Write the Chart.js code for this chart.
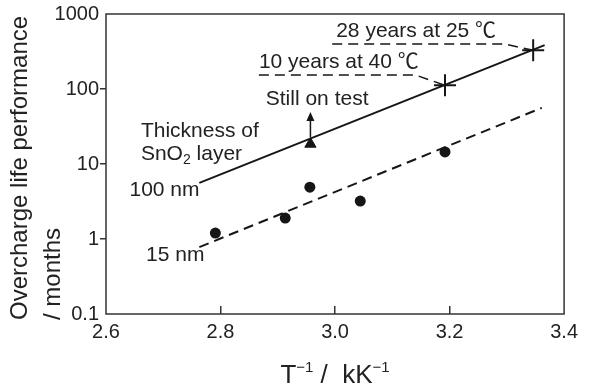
<!DOCTYPE html>
<html>
<head>
<meta charset="utf-8">
<script src="https://cdn.jsdelivr.net/npm/chart.js@4.4.0/dist/chart.umd.min.js"></script>
<style>
  html, body { margin: 0; padding: 0; background: #fff; }
  #wrap { width: 592px; height: 392px; }
</style>
</head>
<body>
<div id="wrap"><canvas id="lifeChart"></canvas></div>
<script>
// Axis ticks
const xTicks = [2.6, 2.8, 3.0, 3.2, 3.4];
const yTicks = [0.1, 1, 10, 100, 1000];

// 100 nm SnO2 layer: fitted line, sample still on test, projections
const fit100X = [2.763, 3.366];
const fit100Y = [5.6, 385];
const stillOnTestX = [2.957];
const stillOnTestY = [18.5];
const projectedX = [3.192, 3.346];
const projectedY = [112, 328];

// 15 nm SnO2 layer: fitted line and measured cells
const fit15X = [2.763, 3.361];
const fit15Y = [0.78, 56];
const measured15X = [2.791, 2.913, 2.956, 3.044, 3.192];
const measured15Y = [1.2, 1.9, 4.9, 3.2, 14.5];

// Leader lines from the projection labels to the crosses
const lead28X = [2.995, 3.296, 3.346];
const lead28Y = [398, 398, 328];
const lead10X = [2.867, 3.14, 3.192];
const lead10Y = [154, 154, 112];

const INK = '#161616';
const TEXT = '#222';
const FONT = '"Liberation Sans", Arial, Helvetica, "Noto Sans CJK JP", sans-serif';

function toPoints(xs, ys) {
    return xs.map((x, i) => ({ x: x, y: ys[i] }));
}

// Text labels placed in data units (left edge, baseline)
const notes = [
    { text: '28 years at 25 ℃', x: 3.002, y: 493 },
    { text: '10 years at 40 ℃', x: 2.867, y: 190 },
    { text: 'Still on test', x: 2.879, y: 61 },
    { text: 'Thickness of', x: 2.661, y: 22.9 },
    { text: '100 nm', x: 2.641, y: 3.74 },
    { text: '15 nm', x: 2.670, y: 0.51 }
];

const decorations = {
    id: 'decorations',
    afterDraw(chart) {
        const ctx = chart.ctx;
        const area = chart.chartArea;
        const xs = chart.scales.x;
        const ys = chart.scales.y;
        const px = v => xs.getPixelForValue(v);
        const py = v => ys.getPixelForValue(v);

        ctx.save();

        // frame
        ctx.strokeStyle = '#333';
        ctx.lineWidth = 1.5;
        ctx.strokeRect(area.left, area.top, area.right - area.left, area.bottom - area.top);

        // dashed leaders
        ctx.strokeStyle = INK;
        ctx.lineWidth = 1.5;
        ctx.setLineDash([10, 6]);
        [[lead28X, lead28Y], [lead10X, lead10Y]].forEach(([lx, ly]) => {
            ctx.beginPath();
            lx.forEach((x, i) => {
                if (i === 0) ctx.moveTo(px(x), py(ly[i]));
                else ctx.lineTo(px(x), py(ly[i]));
            });
            ctx.stroke();
        });
        ctx.setLineDash([]);

        // arrow above the "still on test" triangle
        const ax = px(stillOnTestX[0]);
        const ay = py(stillOnTestY[0]);
        ctx.beginPath();
        ctx.moveTo(ax, ay - 7);
        ctx.lineTo(ax, ay - 24);
        ctx.stroke();
        ctx.fillStyle = INK;
        ctx.beginPath();
        ctx.moveTo(ax, ay - 32);
        ctx.lineTo(ax - 4, ay - 23);
        ctx.lineTo(ax + 4, ay - 23);
        ctx.closePath();
        ctx.fill();

        // notes
        ctx.fillStyle = TEXT;
        ctx.textAlign = 'left';
        ctx.textBaseline = 'alphabetic';
        ctx.font = '21px ' + FONT;
        notes.forEach(n => ctx.fillText(n.text, px(n.x), py(n.y)));

        // SnO2 layer with subscript
        let sx = px(2.661);
        const sy = py(11.3);
        ctx.fillText('SnO', sx, sy);
        sx += ctx.measureText('SnO').width;
        ctx.font = '14px ' + FONT;
        ctx.fillText('2', sx, sy + 4);
        sx += ctx.measureText('2').width;
        ctx.font = '21px ' + FONT;
        ctx.fillText(' layer', sx, sy);

        // x axis title: T^-1 / kK^-1
        const parts = [
            { t: 'T', size: 26, dy: 0 },
            { t: '\u22121', size: 15, dy: -11 },
            { t: ' /  kK', size: 26, dy: 0 },
            { t: '\u22121', size: 15, dy: -11 }
        ];
        let total = 0;
        parts.forEach(p => {
            ctx.font = p.size + 'px ' + FONT;
            p.w = ctx.measureText(p.t).width;
            total += p.w;
        });
        let tx = (area.left + area.right) / 2 - total / 2;
        parts.forEach(p => {
            ctx.font = p.size + 'px ' + FONT;
            ctx.fillText(p.t, tx, 383 + p.dy);
            tx += p.w;
        });

        // y axis title, two lines, rotated
        ctx.translate(27, 320);
        ctx.rotate(-Math.PI / 2);
        ctx.font = '24px ' + FONT;
        ctx.fillText('Overcharge life performance', 0, 0);
        ctx.fillText('/ months', 0, 33);

        ctx.restore();
    }
};

const edgeTransparent = (count) => (c) =>
    (c.index === 0 || c.index === count - 1) ? 'rgba(0,0,0,0)' : '#333';

new Chart(document.getElementById('lifeChart'), {
    type: 'scatter',
    data: {
        datasets: [
            {
                label: '100 nm',
                data: toPoints(fit100X, fit100Y),
                showLine: true,
                borderColor: INK,
                borderWidth: 2,
                pointRadius: 0
            },
            {
                label: '15 nm',
                data: toPoints(fit15X, fit15Y),
                showLine: true,
                borderColor: INK,
                borderWidth: 2,
                borderDash: [10, 6],
                pointRadius: 0
            },
            {
                label: '15 nm measured',
                data: toPoints(measured15X, measured15Y),
                pointStyle: 'circle',
                pointRadius: 5.5,
                backgroundColor: INK,
                borderWidth: 0
            },
            {
                label: 'Still on test',
                data: toPoints(stillOnTestX, stillOnTestY),
                pointStyle: 'triangle',
                pointRadius: 6.5,
                backgroundColor: INK,
                borderColor: INK,
                borderWidth: 1
            },
            {
                label: 'Projected',
                data: toPoints(projectedX, projectedY),
                pointStyle: 'cross',
                pointRadius: 11,
                borderColor: INK,
                borderWidth: 2
            }
        ]
    },
    options: {
        responsive: true,
        maintainAspectRatio: false,
        animation: false,
        layout: {
            padding: { top: 14, right: 16, left: 0, bottom: 0 }
        },
        plugins: {
            legend: { display: false },
            tooltip: { enabled: false }
        },
        scales: {
            x: {
                type: 'linear',
                min: 2.6,
                max: 3.4,
                afterBuildTicks: (scale) => {
                    scale.ticks = xTicks.map(v => ({ value: v }));
                },
                afterFit: (scale) => { scale.height = 78; },
                border: { display: false },
                grid: {
                    drawOnChartArea: false,
                    drawTicks: true,
                    tickLength: -8,
                    lineWidth: 1.5,
                    color: edgeTransparent(xTicks.length)
                },
                ticks: {
                    padding: 14,
                    color: TEXT,
                    font: { family: FONT, size: 20 },
                    callback: (v) => Number(v).toFixed(1)
                }
            },
            y: {
                type: 'logarithmic',
                min: 0.1,
                max: 1000,
                afterBuildTicks: (scale) => {
                    scale.ticks = yTicks.map(v => ({ value: v }));
                },
                afterFit: (scale) => { scale.width = 106; },
                border: { display: false },
                grid: {
                    drawOnChartArea: false,
                    drawTicks: true,
                    tickLength: 6,
                    lineWidth: 1.5,
                    color: edgeTransparent(yTicks.length)
                },
                ticks: {
                    padding: 1,
                    color: TEXT,
                    font: { family: FONT, size: 20 },
                    callback: (v) => String(v)
                }
            }
        }
    },
    plugins: [decorations]
});
</script>
</body>
</html>
